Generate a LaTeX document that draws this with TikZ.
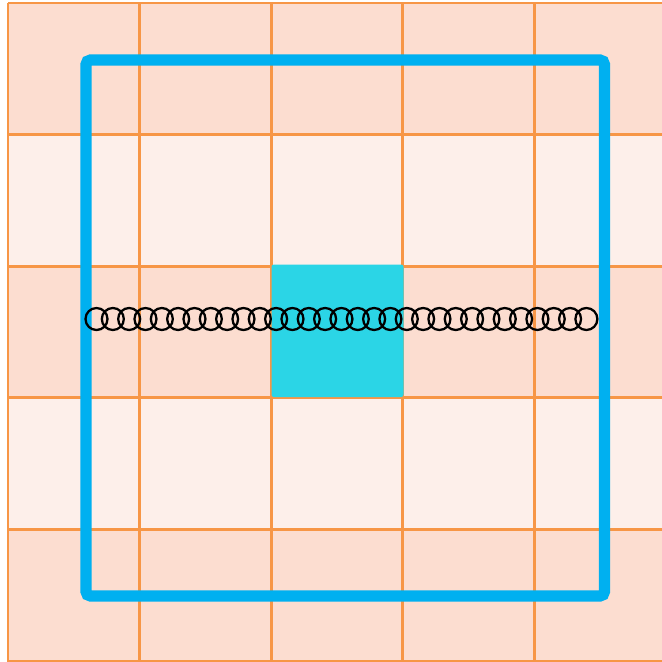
\documentclass[tikz,border=0pt]{standalone}
\usepackage{tikz}
\definecolor{gridorange}{HTML}{F79646}
\definecolor{cellpeach}{HTML}{FCDDD0}
\definecolor{celllight}{HTML}{FDEFEA}
\definecolor{frameblue}{HTML}{00B0F0}
\definecolor{centercyan}{HTML}{2BD5E6}

\begin{document}
\begin{tikzpicture}[x=0.015cm,y=-0.015cm,
  gridline/.style={gridorange,line width=0.04cm},
  ring/.style={black,line width=0.034cm}]
\useasboundingbox (0,0) rectangle (662,662);
\clip (0,0) rectangle (662,662);
% Background rows
\foreach \r in {0,2,4}
  \fill[cellpeach] (8,3+131.6*\r) rectangle (680,3+131.6*\r+131.6);
\foreach \r in {1,3}
  \fill[celllight] (8,3+131.6*\r) rectangle (680,3+131.6*\r+131.6);

% Grid lines
\foreach \i in {0,...,5} {
  \draw[gridline] (8+131.6*\i,3) -- (8+131.6*\i,670);
  \draw[gridline] (8,3+131.6*\i) -- (680,3+131.6*\i);
}

% Centre cell
\fill[centercyan,rounded corners=1pt] (271.5,264.5) rectangle (403.5,397);

% Frame
\draw[frameblue,line width=0.17cm,rounded corners=2pt] (86,60) rectangle (604.5,596);

% Row of rings
\foreach \k in {0,...,30}
  \draw[ring] (96.5+16.33*\k,319) circle (11);
\end{tikzpicture}
\end{document}
